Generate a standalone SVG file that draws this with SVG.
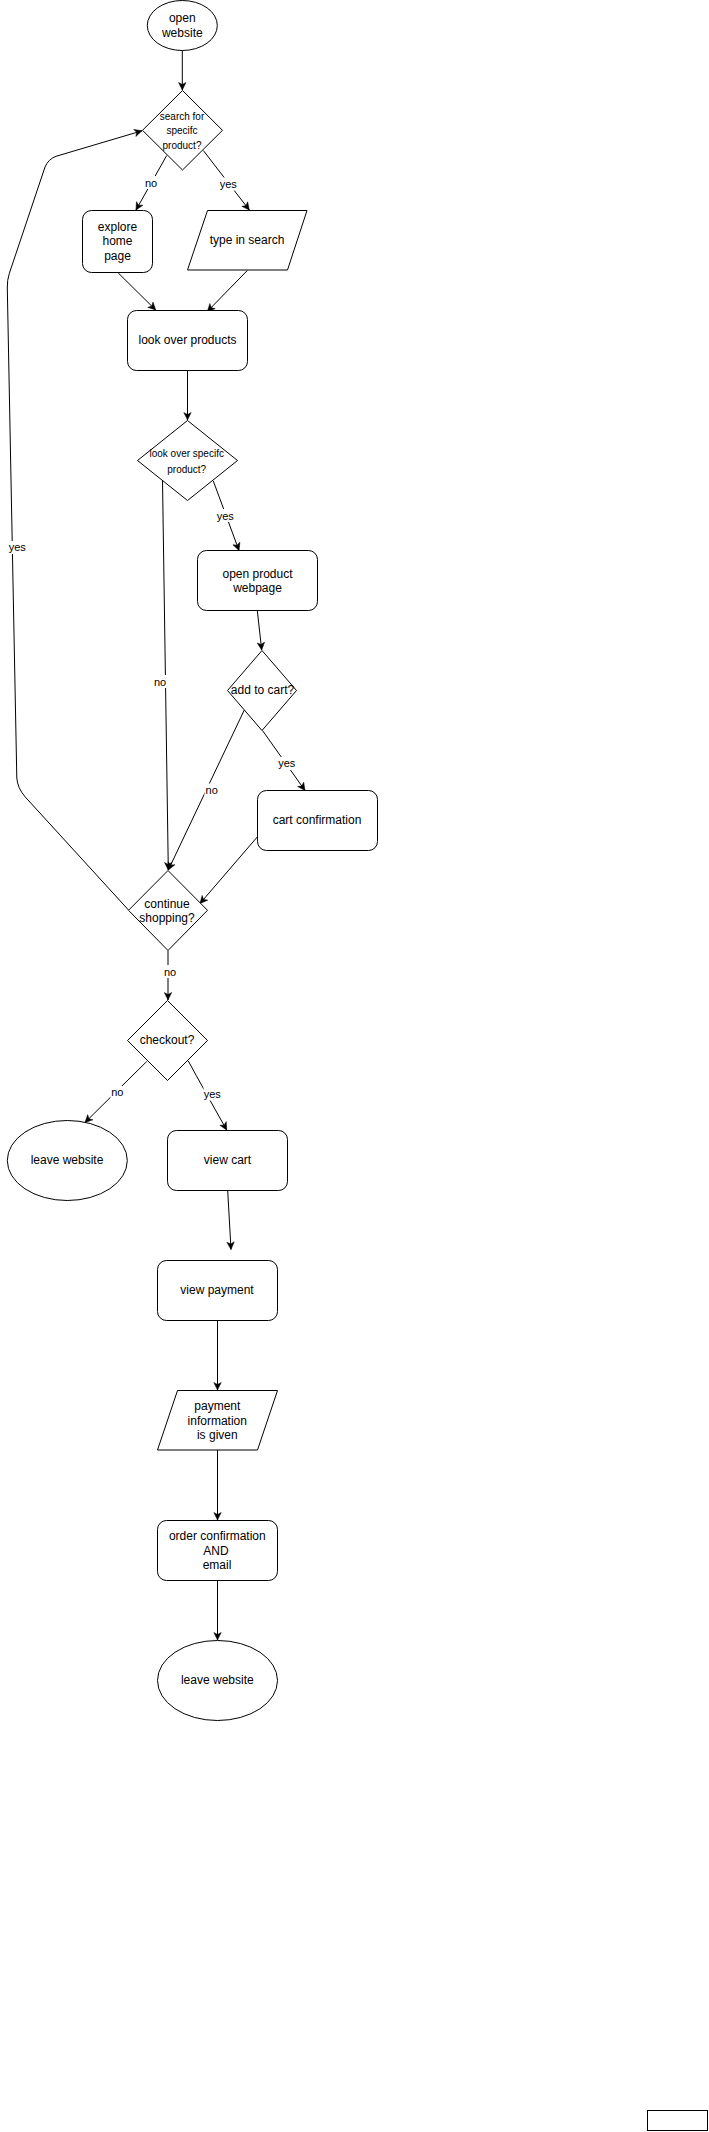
<svg xmlns="http://www.w3.org/2000/svg" width="709" height="2132" viewBox="0 0 709 2132">
<style>
.shape{fill:#fff;stroke:#000;stroke-width:1}
.edge{fill:none;stroke:#000;stroke-width:1;marker-end:url(#arr)}
.t{font-family:"Liberation Sans",Arial,sans-serif;font-size:12px;fill:#000;text-anchor:middle}
.s{font-family:"Liberation Sans",Arial,sans-serif;font-size:10px;fill:#000;text-anchor:middle}
.l{font-family:"Liberation Sans",Arial,sans-serif;font-size:11px;fill:#000;text-anchor:middle}
.bg{fill:#fff;stroke:none}
</style>
<defs>
<marker id="arr" markerUnits="userSpaceOnUse" markerWidth="9" markerHeight="9" viewBox="0 0 9 9" refX="8" refY="4.5" orient="auto">
<path d="M0.5,0.8 L8,4.5 L0.5,8.2 L2.5,4.5 Z" fill="#000" stroke="#000" stroke-width="0.5"/>
</marker>
</defs>
<rect width="709" height="2132" fill="#fff"/>
<g id="connectors">
<path class="edge" d="M182.3,50.5 L182.3,90"/>
<path class="edge" d="M166.7,155.5 L136,210"/>
<path class="edge" d="M203.3,150.5 L249.3,210"/>
<path class="edge" d="M118.3,273 L155.7,310"/>
<path class="edge" d="M247.3,270.5 L207.3,311.5"/>
<path class="edge" d="M187.5,370.5 L187.5,420"/>
<path class="edge" d="M213.3,481 L239,550.5"/>
<path class="edge" d="M162.5,480.5 L168.3,870"/>
<path class="edge" d="M257.3,610.5 L261.7,650"/>
<path class="edge" d="M244.3,710 L168.3,870"/>
<path class="edge" d="M262.5,730.5 L305,790.5"/>
<path class="edge" d="M257.5,836.7 L200,903.5"/>
<path class="edge" d="M128.5,910 L25,796.7 Q17.5,788 16.8,778 L7.3,288 Q7.1,280 9.3,273.5 L45,167 Q48.5,159 56,156.3 L142,130.8"/>
<path class="edge" d="M168,950.5 L168,1000"/>
<path class="edge" d="M146.7,1061.5 L85,1122.5"/>
<path class="edge" d="M188.3,1061 Q203,1088 226.7,1130"/>
<path class="edge" d="M227.7,1190.5 L231,1249.5"/>
<path class="edge" d="M217.5,1320.5 L217.5,1390"/>
<path class="edge" d="M217.5,1450 L217.5,1520"/>
<path class="edge" d="M217.5,1580.5 L217.5,1640"/>
<g id="edge-labels">
<rect class="bg" x="144" y="176" width="14" height="13"/><text class="l" x="151" y="186.7">no</text>
<rect class="bg" x="219.5" y="177.5" width="18" height="13"/><text class="l" x="228.3" y="188">yes</text>
<rect class="bg" x="216.5" y="509" width="18" height="13"/><text class="l" x="225.3" y="519.7">yes</text>
<rect class="bg" x="153" y="675" width="14" height="13"/><text class="l" x="160" y="685.5">no</text>
<rect class="bg" x="278" y="757" width="18" height="13"/><text class="l" x="286.7" y="767.3">yes</text>
<rect class="bg" x="204.5" y="783.5" width="14" height="13"/><text class="l" x="211.7" y="794">no</text>
<rect class="bg" x="8.5" y="541" width="18" height="13"/><text class="l" x="17.3" y="551">yes</text>
<rect class="bg" x="163" y="965" width="14" height="13"/><text class="l" x="170" y="975.7">no</text>
<rect class="bg" x="110.5" y="1086" width="14" height="13"/><text class="l" x="117.3" y="1096">no</text>
<rect class="bg" x="203.5" y="1087.5" width="18" height="13"/><text class="l" x="212.3" y="1097.7">yes</text>
</g>
</g>
<g id="open-website"><ellipse class="shape" cx="182.3" cy="25.5" rx="35" ry="25"/><text class="t" x="182.3" y="21.7">open</text><text class="t" x="182.3" y="36.7">website</text></g>
<g id="search-specific"><path class="shape" d="M182.5,90.5 L222.5,130.3 L182.5,170 L142.5,130.3 Z"/><text class="s" x="182" y="120.2">search for</text><text class="s" x="182" y="134.3">specifc</text><text class="s" x="182" y="149.2">product?</text></g>
<g id="explore-home"><rect class="shape" x="82.5" y="210.5" width="70" height="62" rx="9"/><text class="t" x="117.5" y="231">explore</text><text class="t" x="117.5" y="245">home</text><text class="t" x="117.5" y="260">page</text></g>
<g id="type-search"><path class="shape" d="M207.5,210.5 L307,210.5 L287.5,270 L187.5,270 Z"/><text class="t" x="247" y="244">type in search</text></g>
<g id="look-products"><rect class="shape" x="127.5" y="310.5" width="120" height="60" rx="9"/><text class="t" x="187.5" y="344">look over products</text></g>
<g id="look-specific"><path class="shape" d="M187.5,420.5 L237.5,460.5 L187.5,500.5 L137.5,460.5 Z"/><text class="s" x="186.7" y="457">look over specifc</text><text class="s" x="186.7" y="472.5">product?</text></g>
<g id="open-product"><rect class="shape" x="197.5" y="550.5" width="120" height="60" rx="9"/><text class="t" x="257.5" y="577.5">open product</text><text class="t" x="257.5" y="592">webpage</text></g>
<g id="add-cart"><path class="shape" d="M262,650.5 L296.5,690.5 L262,730.5 L227.5,690.5 Z"/><text class="t" x="262.5" y="694.3">add to cart?</text></g>
<g id="cart-confirmation"><rect class="shape" x="257.5" y="790.5" width="120" height="60" rx="9"/><text class="t" x="317" y="823.5">cart confirmation</text></g>
<g id="continue-shopping"><path class="shape" d="M168,870.5 L207.5,910.3 L168,950.5 L128.5,910.3 Z"/><text class="t" x="167" y="907.5">continue</text><text class="t" x="167" y="922">shopping?</text></g>
<g id="checkout"><path class="shape" d="M167.5,1000.5 L207.5,1040.5 L167.5,1080.5 L127.5,1040.5 Z"/><text class="t" x="167" y="1044">checkout?</text></g>
<g id="leave-website-1"><ellipse class="shape" cx="67.3" cy="1160.5" rx="60" ry="40"/><text class="t" x="67" y="1164">leave website</text></g>
<g id="view-cart"><rect class="shape" x="167.5" y="1130.5" width="120" height="60" rx="9"/><text class="t" x="227.5" y="1164">view cart</text></g>
<g id="view-payment"><rect class="shape" x="157.5" y="1260.5" width="120" height="60" rx="9"/><text class="t" x="217" y="1294">view payment</text></g>
<g id="payment-info"><path class="shape" d="M177.5,1390.5 L277.5,1390.5 L257.5,1450 L157.5,1450 Z"/><text class="t" x="217.3" y="1410">payment</text><text class="t" x="217.3" y="1424.5">information</text><text class="t" x="217.3" y="1439">is given</text></g>
<g id="order-confirmation"><rect class="shape" x="157.5" y="1520.5" width="120" height="60" rx="9"/><text class="t" x="217.3" y="1540">order confirmation</text><text class="t" x="216" y="1554.5">AND</text><text class="t" x="217" y="1569">email</text></g>
<g id="leave-website-2"><ellipse class="shape" cx="217.5" cy="1680.5" rx="60" ry="40"/><text class="t" x="217.3" y="1684">leave website</text></g>
<g id="blank-box"><rect class="shape" x="647.5" y="2110.5" width="60" height="20"/></g>
</svg>
